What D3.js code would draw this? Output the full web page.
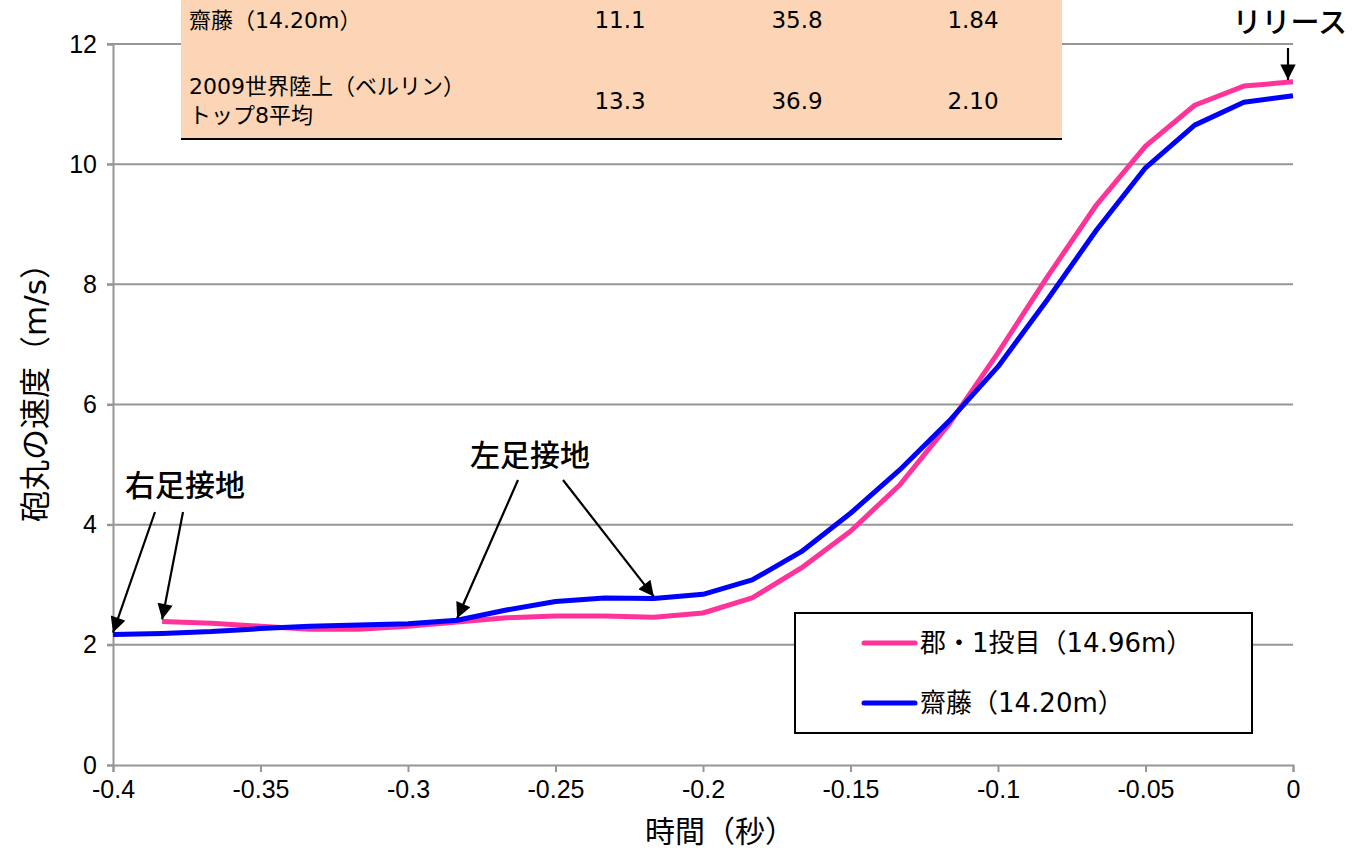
<!DOCTYPE html>
<html><head><meta charset="utf-8">
<script src="https://cdn.jsdelivr.net/npm/d3@7"></script>
<style>
body{margin:0;background:#fff;}
svg{display:block;font-family:"DejaVu Sans","Noto Sans CJK JP",sans-serif;}
</style></head>
<body><svg id="c" width="1355" height="852"></svg>
<script>
// ---- data ----
const timesBlue = [-24,-23,-22,-21,-20,-19,-18,-17,-16,-15,-14,-13,-12,-11,-10,-9,-8,-7,-6,-5,-4,-3,-2,-1,0].map(k=>k/60);
const saitoValues = [2.17,2.19,2.22,2.27,2.31,2.33,2.35,2.41,2.58,2.72,2.78,2.77,2.84,3.08,3.55,4.19,4.91,5.72,6.63,7.74,8.90,9.94,10.65,11.03,11.14];
const timesPink = [-23,-22,-21,-20,-19,-18,-17,-16,-15,-14,-13,-12,-11,-10,-9,-8,-7,-6,-5,-4,-3,-2,-1,0].map(k=>k/60);
const kooriValues = [2.39,2.36,2.31,2.26,2.26,2.31,2.38,2.45,2.48,2.48,2.46,2.53,2.78,3.28,3.89,4.66,5.67,6.86,8.12,9.32,10.30,10.98,11.30,11.37];
const seriesNames = ["郡・1投目（14.96m）","齋藤（14.20m）"];
const seriesColors = ["#FF3399","#0000FF"];
const xTicks = [-0.4,-0.35,-0.3,-0.25,-0.2,-0.15,-0.1,-0.05,0];
const yTicks = [0,2,4,6,8,10,12];
const tableRows = [
  {label:["齋藤（14.20m）"], vals:["11.1","35.8","1.84"]},
  {label:["2009世界陸上（ベルリン）","トップ8平均"], vals:["13.3","36.9","2.10"]}
];
const annotations = [
  {text:"右足接地", tx:185, ty:485, arrows:[{t:-0.4, v:2.17, from:[155,512]},{t:-23/60, v:2.39, from:[183,512]}]},
  {text:"左足接地", tx:530, ty:455, arrows:[{t:-17/60, v:2.41, from:[518,480]},{t:-13/60, v:2.77, from:[563,480]}]}
];

const svg = d3.select("#c");
const x = d3.scaleLinear().domain([-0.4,0]).range([113,1293]);
const y = d3.scaleLinear().domain([0,12]).range([765,44]);
const cjk = '"Noto Sans CJK JP",sans-serif';

svg.append("defs").append("marker").attr("id","ah").attr("viewBox","0 0 10 10")
  .attr("refX",10).attr("refY",5).attr("markerWidth",8).attr("markerHeight",7)
  .attr("markerUnits","strokeWidth").attr("orient","auto")
  .append("path").attr("d","M0,0L10,5L0,10z").attr("fill","#000");

// gridlines
svg.append("g").selectAll("line").data(yTicks.filter(d=>d>0)).join("line")
  .attr("x1",107).attr("x2",1293).attr("y1",d=>y(d)).attr("y2",d=>y(d))
  .attr("stroke","#969696").attr("stroke-width",2);

// y axis
const ya = svg.append("g").attr("transform","translate(113,0)")
  .call(d3.axisLeft(y).tickValues(yTicks).tickSize(6).tickPadding(10).tickFormat(d3.format("d")));
ya.select(".domain").attr("stroke","#969696").attr("stroke-width",2);
ya.selectAll(".tick line").attr("stroke","#969696").attr("stroke-width",2);
ya.selectAll("text").attr("font-size",25).attr("fill","#000").attr("font-family","inherit");

// x axis
const xa = svg.append("g").attr("transform","translate(0,765)")
  .call(d3.axisBottom(x).tickValues(xTicks).tickSize(7).tickPadding(8).tickFormat(d=>d===0?"0":String(d)));
xa.select(".domain").attr("stroke","#969696").attr("stroke-width",2);
xa.selectAll(".tick line").attr("stroke","#969696").attr("stroke-width",2);
xa.selectAll("text").attr("font-size",25).attr("fill","#000").attr("font-family","inherit");

// axis titles
svg.append("text").attr("x",720).attr("y",842).attr("text-anchor","middle")
  .attr("font-size",30).text("時間（秒）");
svg.append("text").attr("transform","translate(46,385) rotate(-90)").attr("text-anchor","middle")
  .attr("font-size",31).text("砲丸の速度（m/s）");

// table (covers top gridline)
svg.append("rect").attr("x",181).attr("y",0).attr("width",881).attr("height",139).attr("fill","#FBD5B5");
svg.append("line").attr("x1",181).attr("x2",1062).attr("y1",139).attr("y2",139).attr("stroke","#000").attr("stroke-width",2);
const colX = [620,797,973];
const rowY = [20,101];
tableRows.forEach((r,i)=>{
  const n = r.label.length;
  r.label.forEach((l,j)=>{
    svg.append("text").attr("x",189).attr("y",rowY[i] + (j-(n-1)/2)*29).attr("dy","0.35em")
      .attr("font-size",22).text(l);
  });
  r.vals.forEach((v,j)=>{
    svg.append("text").attr("x",colX[j]).attr("y",rowY[i]).attr("dy","0.35em")
      .attr("text-anchor","middle").attr("font-size",23).text(v);
  });
});

// lines
const line = d3.line().x(d=>x(d[0])).y(d=>y(d[1]));
const pinkData = timesPink.map((t,i)=>[t,kooriValues[i]]);
const blueData = timesBlue.map((t,i)=>[t,saitoValues[i]]);
svg.append("path").attr("d",line(pinkData)).attr("fill","none").attr("stroke",seriesColors[0])
  .attr("stroke-width",5).attr("stroke-linejoin","round");
svg.append("path").attr("d",line(blueData)).attr("fill","none").attr("stroke",seriesColors[1])
  .attr("stroke-width",5).attr("stroke-linejoin","round");

// annotations
annotations.forEach(a=>{
  svg.append("text").attr("x",a.tx).attr("y",a.ty).attr("dy","0.35em").attr("text-anchor","middle")
    .attr("font-family",cjk).attr("font-size",30).attr("font-weight",500).text(a.text);
  a.arrows.forEach(ar=>{
    svg.append("line").attr("x1",ar.from[0]).attr("y1",ar.from[1])
      .attr("x2",x(ar.t)).attr("y2",y(ar.v)-2)
      .attr("stroke","#000").attr("stroke-width",2.2).attr("marker-end","url(#ah)");
  });
});
svg.append("text").attr("x",1347).attr("y",23).attr("dy","0.35em").attr("text-anchor","end")
  .attr("font-family",cjk).attr("font-size",29).attr("font-weight",500).text("リリース");
svg.append("line").attr("x1",x(0)-5).attr("x2",x(0)-5).attr("y1",48).attr("y2",y(11.37)-2)
  .attr("stroke","#000").attr("stroke-width",2.2).attr("marker-end","url(#ah)");

// legend
svg.append("rect").attr("x",795).attr("y",613).attr("width",457).attr("height",120)
  .attr("fill","#fff").attr("stroke","#000").attr("stroke-width",2);
seriesNames.forEach((n,i)=>{
  const ly = 643 + i*60;
  svg.append("line").attr("x1",864).attr("x2",915).attr("y1",ly).attr("y2",ly)
    .attr("stroke",seriesColors[i]).attr("stroke-width",5).attr("stroke-linecap","round");
  svg.append("text").attr("x",920).attr("y",ly).attr("dy","0.35em").attr("font-size",26).text(n);
});
</script></body></html>
